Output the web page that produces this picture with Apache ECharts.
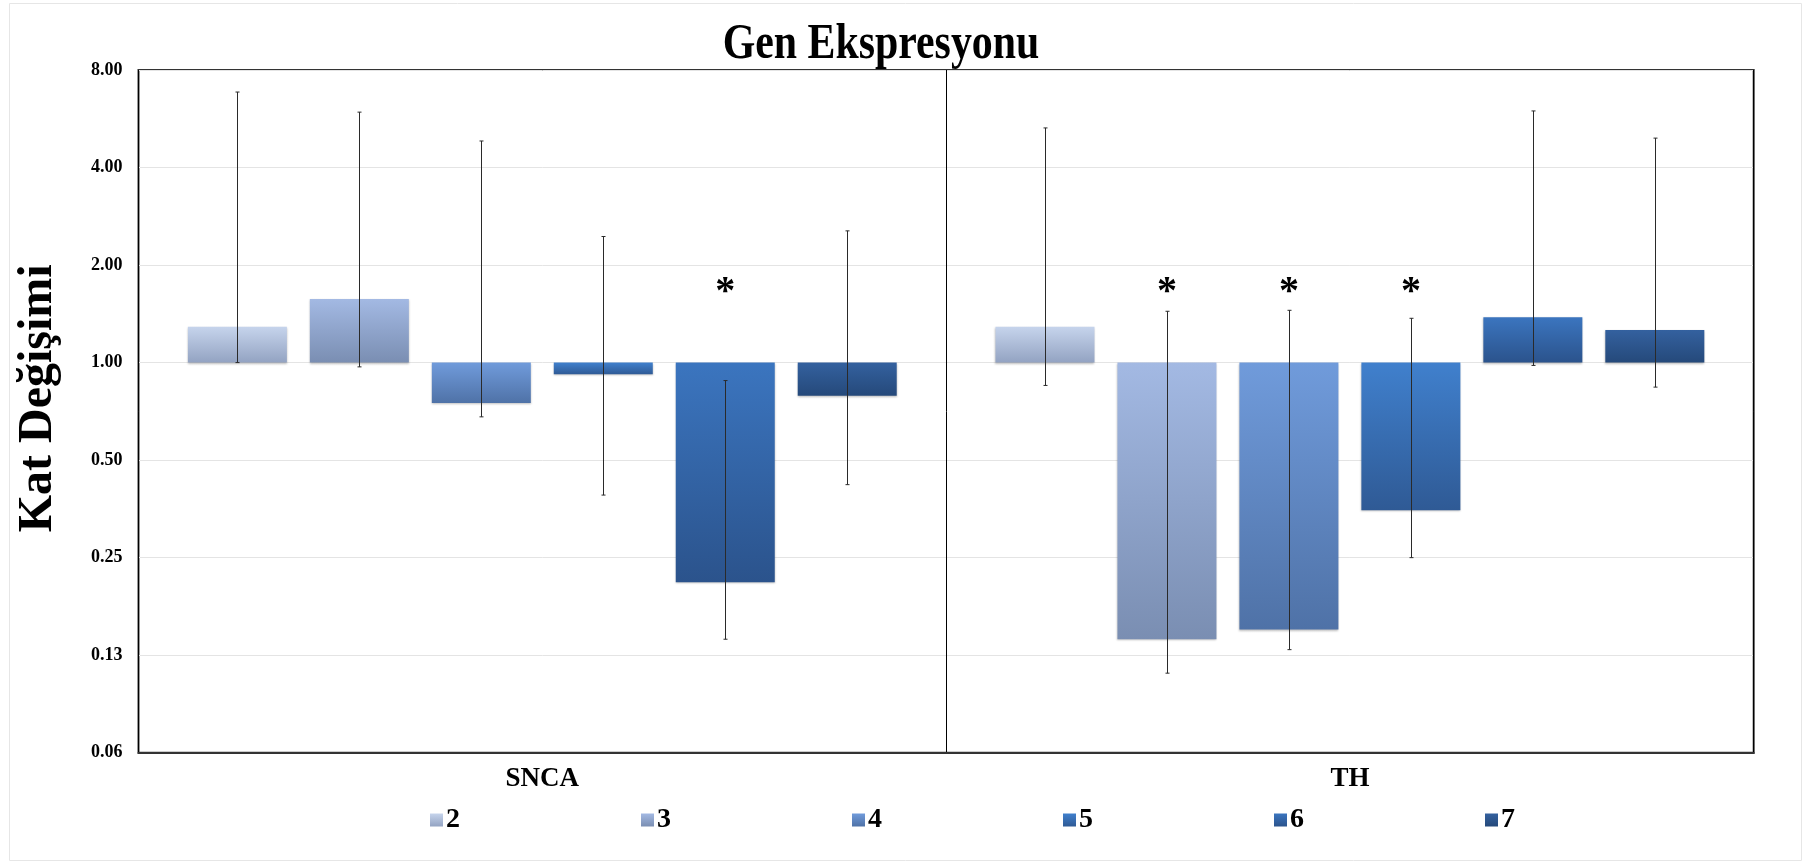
<!DOCTYPE html>
<html>
<head>
<meta charset="utf-8">
<script src="https://cdn.jsdelivr.net/npm/echarts@6/dist/echarts.min.js"></script>
<style>
html,body{margin:0;padding:0;background:#fff;}
#chart{width:1811px;height:864px;}
</style>
</head>
<body>
<div id="chart"></div>
<script>
// ---- data ----
const categories = ['SNCA', 'TH'];
const seriesNames = ['2', '3', '4', '5', '6', '7'];
const yTickValues = [0.0625, 0.125, 0.25, 0.5, 1, 2, 4, 8];
const chartTitle = 'Gen Ekspresyonu';
const yAxisTitle = 'Kat Değişimi';

// fold change (bar values) per series: [SNCA, TH]
const fold2 = [1.29, 1.29];
const fold3 = [1.57, 0.14];
const fold4 = [0.75, 0.15];
const fold5 = [0.92, 0.35];
const fold6 = [0.21, 1.38];
const fold7 = [0.79, 1.26];

// error bars [low, high] per series: [SNCA, TH]
const err2 = [[1.00, 6.84], [0.85, 5.30]];
const err3 = [[0.97, 5.93], [0.11, 1.44]];
const err4 = [[0.68, 4.83], [0.13, 1.45]];
const err5 = [[0.39, 2.45], [0.25, 1.37]];
const err6 = [[0.14, 0.88], [0.98, 5.98]];
const err7 = [[0.42, 2.55], [0.84, 4.93]];

// significance markers per series: [SNCA, TH]
const sig2 = [false, false];
const sig3 = [false, true];
const sig4 = [false, true];
const sig5 = [false, true];
const sig6 = [true, false];
const sig7 = [false, false];
const sigMarkLevel = 1.64;

// ---- style ----
const FONT = '"Liberation Serif", "Times New Roman", serif';
const BAR_W = 99;
const BAR_GAP = 0.232;
const gradients = [
  ['#c6d4ec', '#93a3c2'],
  ['#a3b9e3', '#7a8eb2'],
  ['#709bdb', '#4f72a7'],
  ['#4080cd', '#2f5a95'],
  ['#3b75bf', '#2b538c'],
  ['#34619f', '#25497a']
];

const folds = [fold2, fold3, fold4, fold5, fold6, fold7];
const errs = [err2, err3, err4, err5, err6, err7];
const sigs = [sig2, sig3, sig4, sig5, sig6, sig7];

function grad(c) {
  return new echarts.graphic.LinearGradient(0, 0, 0, 1, [
    { offset: 0, color: c[0] },
    { offset: 1, color: c[1] }
  ]);
}

const series = [];
seriesNames.forEach(function (name, i) {
  series.push({
    name: name,
    type: 'bar',
    barWidth: BAR_W,
    barGap: (BAR_GAP * 100) + '%',
    data: folds[i],
    itemStyle: {
      color: grad(gradients[i]),
      shadowColor: 'rgba(0,0,0,0.25)',
      shadowBlur: 2,
      shadowOffsetY: 1
    },
    emphasis: { disabled: true },
    z: 2
  });
});

seriesNames.forEach(function (name, i) {
  const off = (i - (seriesNames.length - 1) / 2) * BAR_W * (1 + BAR_GAP);
  series.push({
    type: 'custom',
    name: 'err' + name,
    data: errs[i].map(function (e, c) { return [c, e[0], e[1]]; }),
    encode: { x: 0, y: [1, 2] },
    z: 5,
    silent: true,
    renderItem: function (params, api) {
      const c = api.value(0);
      const pLow = api.coord([c, api.value(1)]);
      const pHigh = api.coord([c, api.value(2)]);
      const x = Math.round(pLow[0] + off) + 0.5;
      const st = { stroke: '#2a2a2a', lineWidth: 1 };
      return {
        type: 'group',
        children: [
          { type: 'line', shape: { x1: x, y1: pHigh[1], x2: x, y2: pLow[1] }, style: st },
          { type: 'line', shape: { x1: x - 2, y1: pHigh[1], x2: x + 2, y2: pHigh[1] }, style: st },
          { type: 'line', shape: { x1: x - 2, y1: pLow[1], x2: x + 2, y2: pLow[1] }, style: st }
        ]
      };
    }
  });
  const sigData = [];
  sigs[i].forEach(function (s, c) { if (s) sigData.push([c, sigMarkLevel]); });
  series.push({
    type: 'custom',
    name: 'sig' + name,
    data: sigData,
    encode: { x: 0, y: 1 },
    z: 6,
    silent: true,
    renderItem: function (params, api) {
      const p = api.coord([api.value(0), api.value(1)]);
      return {
        type: 'text',
        style: {
          text: '*',
          x: p[0] + off,
          y: p[1],
          align: 'center',
          verticalAlign: 'middle',
          font: 'bold 40px ' + FONT,
          fill: '#000'
        }
      };
    }
  });
});

const chart = echarts.init(document.getElementById('chart'), null, { renderer: 'canvas' });
chart.setOption({
  animation: false,
  backgroundColor: '#ffffff',
  graphic: [{
    type: 'rect',
    shape: { x: 9.5, y: 3.5, width: 1792, height: 857 },
    style: { fill: 'none', stroke: '#e6e6e6', lineWidth: 1 },
    silent: true,
    z: -1
  }, {
    type: 'text',
    x: 881,
    y: 45,
    scaleX: 0.82,
    silent: true,
    style: {
      text: chartTitle,
      font: 'bold 51px ' + FONT,
      fill: '#000',
      align: 'center',
      verticalAlign: 'middle'
    }
  }],
  legend: {
    data: seriesNames,
    left: 425,
    top: 801,
    icon: 'rect',
    itemWidth: 13,
    itemHeight: 13,
    itemGap: 181,
    textStyle: { fontFamily: FONT, fontSize: 28, fontWeight: 'bold', color: '#000', padding: [0, 0, 0, -2] },
    selectedMode: false
  },
  grid: {
    left: 138.5,
    right: 57.3,
    top: 70,
    bottom: 111.3,
    show: true,
    borderColor: '#333',
    borderWidth: 2,
    containLabel: false
  },
  xAxis: {
    type: 'category',
    data: categories,
    axisTick: { show: false },
    axisLine: { show: true, lineStyle: { color: '#333', width: 2 } },
    splitLine: { show: true, interval: 0, lineStyle: { color: '#000', width: 1 } },
    axisLabel: { fontFamily: FONT, fontSize: 27, fontWeight: 'bold', color: '#000', margin: 13 }
  },
  yAxis: {
    type: 'log',
    logBase: 2,
    min: yTickValues[0],
    max: yTickValues[yTickValues.length - 1],
    name: yAxisTitle,
    nameLocation: 'middle',
    nameRotate: 90,
    nameGap: 76,
    nameTextStyle: { fontFamily: FONT, fontSize: 48, fontWeight: 'bold', color: '#000', padding: [0, 0, 0, 26] },
    axisLine: { show: false },
    axisTick: { show: false },
    splitLine: { show: true, lineStyle: { color: '#e4e4e4', width: 1 } },
    axisLabel: {
      fontFamily: FONT, fontSize: 18, fontWeight: 'bold', color: '#000', margin: 16,
      formatter: function (v) { return Number(v).toFixed(2); }
    }
  },
  series: series
});
</script>
</body>
</html>
